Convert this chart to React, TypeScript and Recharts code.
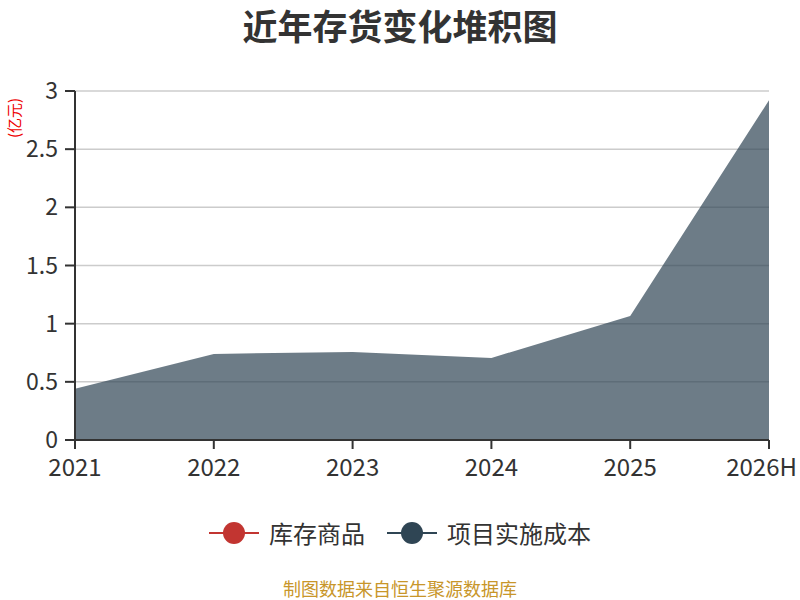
import React from 'react';
import { AreaChart, Area, XAxis, YAxis, CartesianGrid } from 'recharts';

const years = ['2021', '2022', '2023', '2024', '2025', '2026H'];
const inventoryGoods = [0, 0, 0, 0, 0, 0];
const projectCost = [0.44, 0.74, 0.757, 0.705, 1.066, 2.92];
const yTicks = [0, 0.5, 1, 1.5, 2, 2.5, 3];

const RED = '#c23531';
const SLATE = '#2f4554';
const FONT = '"Noto Sans CJK SC", "Noto Sans", sans-serif';

const data = years.map((y, i) => ({
  year: y,
  goods: inventoryGoods[i],
  cost: projectCost[i],
}));

// keeps the last label inside the page, like the original does
function XTick(props: any) {
  const { x, y, payload } = props;
  const last = payload.value === years[years.length - 1];
  return (
    <text
      x={last ? x + 28 : x}
      y={y}
      dy={20}
      textAnchor={last ? 'end' : 'middle'}
      fill="#333"
      fontSize={24}
      fontFamily={FONT}
    >
      {payload.value}
    </text>
  );
}

function LegendItem({ color, label }: { color: string; label: string }) {
  return (
    <div style={{ display: 'flex', alignItems: 'center', marginRight: 22 }}>
      <svg width={50} height={24} style={{ marginRight: 10 }}>
        <line x1={0} y1={12} x2={50} y2={12} stroke={color} strokeWidth={2} />
        <circle cx={25} cy={12} r={11} fill={color} />
      </svg>
      <span style={{ fontSize: 24, color: '#333', lineHeight: '30px' }}>{label}</span>
    </div>
  );
}

export default function App() {
  return (
    <div
      style={{
        position: 'absolute',
        left: 0,
        top: 0,
        width: 800,
        height: 600,
        background: '#fff',
        fontFamily: FONT,
      }}
    >
      <div
        style={{
          position: 'absolute',
          top: 0,
          width: 800,
          textAlign: 'center',
          fontSize: 35,
          lineHeight: '50px',
          fontWeight: 'bold',
          color: '#333',
        }}
      >
        近年存货变化堆积图
      </div>
      <div
        style={{
          position: 'absolute',
          left: 14,
          top: 118,
          transform: 'translate(-50%, -50%) rotate(-90deg)',
          whiteSpace: 'nowrap',
          fontSize: 15,
          lineHeight: '16px',
          color: '#e00',
        }}
      >
        (亿元)
      </div>
      <AreaChart
        width={800}
        height={600}
        data={data}
        margin={{ top: 91, right: 31, left: 0, bottom: 120 }}
        style={{ fontFamily: FONT }}
      >
        <CartesianGrid vertical={false} stroke="#ccc" strokeWidth={1.5} />
        <XAxis
          dataKey="year"
          height={40}
          axisLine={{ stroke: '#333', strokeWidth: 2 }}
          tickLine={{ stroke: '#333', strokeWidth: 2 }}
          tickSize={9}
          tickMargin={7}
          tick={<XTick />}
          interval={0}
        />
        <YAxis
          width={75}
          domain={[0, 3]}
          ticks={yTicks}
          axisLine={{ stroke: '#333', strokeWidth: 2 }}
          tickLine={{ stroke: '#333', strokeWidth: 2 }}
          tickSize={10}
          tickMargin={7}
          tick={{ fill: '#333', fontSize: 23 }}
        />
        <Area
          type="linear"
          dataKey="goods"
          stackId="a"
          stroke={RED}
          strokeOpacity={0.3}
          fill={RED}
          fillOpacity={0.7}
          isAnimationActive={false}
          dot={false}
          activeDot={false}
        />
        <Area
          type="linear"
          dataKey="cost"
          stackId="a"
          stroke="none"
          fill={SLATE}
          fillOpacity={0.7}
          isAnimationActive={false}
          dot={false}
          activeDot={false}
        />
      </AreaChart>
      <div
        style={{
          position: 'absolute',
          top: 518,
          width: 800,
          display: 'flex',
          justifyContent: 'center',
          paddingLeft: 22,
          boxSizing: 'border-box',
        }}
      >
        <LegendItem color={RED} label="库存商品" />
        <LegendItem color={SLATE} label="项目实施成本" />
      </div>
      <div
        style={{
          position: 'absolute',
          top: 578,
          width: 800,
          textAlign: 'center',
          fontSize: 18,
          lineHeight: '20px',
          color: '#c8962a',
        }}
      >
        制图数据来自恒生聚源数据库
      </div>
    </div>
  );
}
